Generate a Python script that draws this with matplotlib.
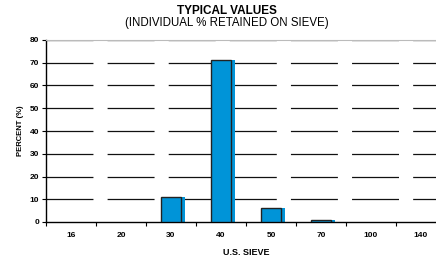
import numpy as np
import matplotlib
matplotlib.use('Agg')
import matplotlib.pyplot as plt

# Data
sieves = ['16', '20', '30', '40', '50', '70', '100', '140']
retained = [0, 0, 11, 71, 6, 1, 0, 0]
yticks = [0, 10, 20, 30, 40, 50, 60, 70, 80]

plt.rcParams['font.family'] = ['Liberation Sans', 'DejaVu Sans']
plt.rcParams['lines.scale_dashes'] = False

fig = plt.figure(figsize=(4.36, 2.58), dpi=100)
# the chart runs a bit past the right edge of the picture, as in the original
ax = fig.add_axes([46/436, 36/258, 400/436, 182/258])

x = np.arange(len(sieves))
blue = '#0094D8'
edge_w = [1.0 if v > 0 else 0 for v in retained]

# offset shadow, then the bar itself
ax.bar(x + 0.07, retained, width=0.4, color=blue, zorder=2, linewidth=0)
ax.bar(x, retained, width=0.4, color=blue, edgecolor='#222222', linewidth=edge_w, zorder=3)

ax.set_xlim(-0.5, len(sieves) - 0.5)
ax.set_ylim(0, 80)
ax.set_yticks(yticks)
ax.set_yticklabels([str(v) for v in yticks], fontsize=6, fontweight='bold')

ax.set_xticks(x)
ax.set_xticklabels(sieves, fontsize=6, fontweight='bold')
ax.tick_params(axis='x', which='major', length=0, pad=7)
ax.set_xticks(np.arange(len(sieves) + 1) - 0.5, minor=True)
ax.tick_params(axis='x', which='minor', length=3, width=0.8, direction='out')
ax.tick_params(axis='y', length=3, width=0.8, pad=2)

for v in yticks[1:]:
    ax.axhline(v, color='#111111', linewidth=0.9, dashes=(33.8, 10.2), zorder=1)

for side in ['left', 'bottom']:
    ax.spines[side].set_linewidth(1.0)
    ax.spines[side].set_color('black')
ax.spines['top'].set_color('#bbbbbb')
ax.spines['right'].set_visible(False)

ax.set_ylabel('PERCENT (%)', fontsize=5.5, fontweight='bold', labelpad=4)
ax.set_xlabel('U.S. SIEVE', fontsize=6.5, fontweight='bold', labelpad=7)

fig.text(227/436, 1 - 11/258, 'TYPICAL VALUES', fontsize=8.5, fontweight='bold',
         ha='center', va='center')
fig.text(227/436, 1 - 23/258, '(INDIVIDUAL % RETAINED ON SIEVE)', fontsize=8.3,
         ha='center', va='center')

fig.savefig('out.png', dpi=100)
